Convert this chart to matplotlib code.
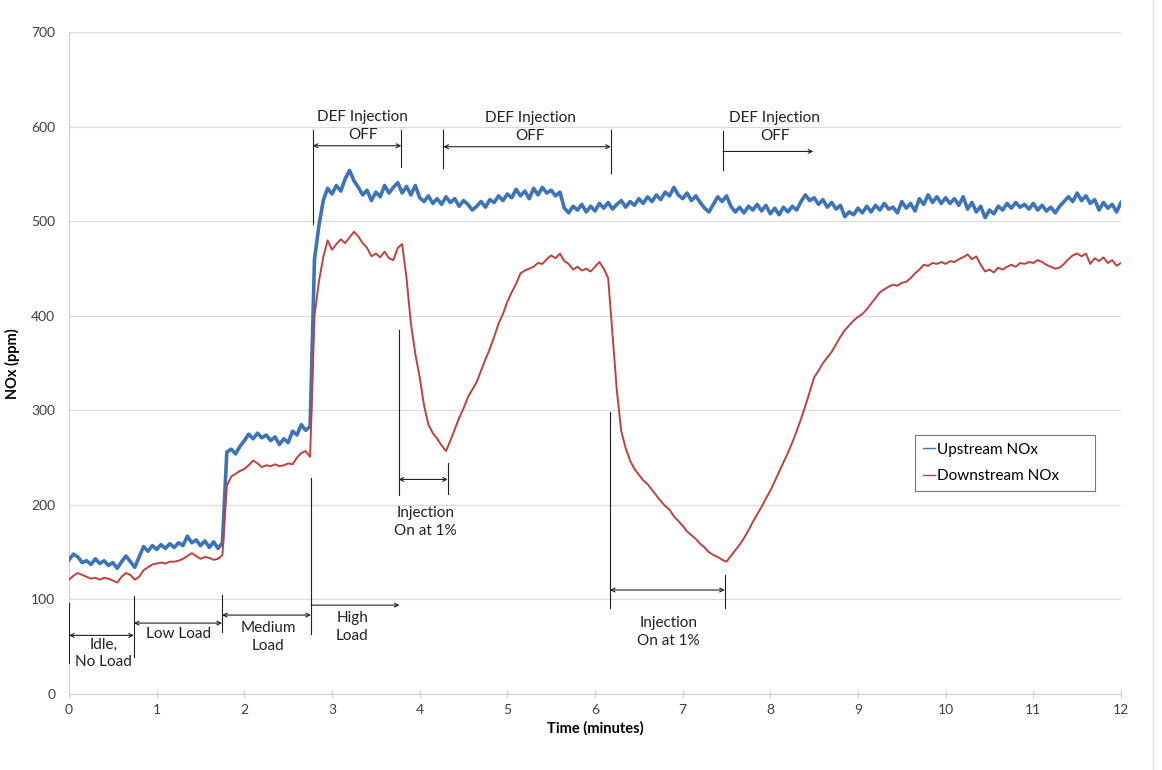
import numpy as np
import matplotlib
matplotlib.use('Agg')
import matplotlib.pyplot as plt
from matplotlib.lines import Line2D

plt.rcParams['font.family'] = ['Lato', 'DejaVu Sans']

# readings every 0.05 minutes, 0 .. 12
step = 0.05

upstream = [
    142, 148, 145, 139, 141, 137, 143, 138, 141, 136, 139, 133, 140, 146, 140, 134,
    145, 156, 151, 157, 153, 158, 154, 159, 155, 160, 157, 167, 160, 163, 157, 162,
    155, 161, 154, 160, 256, 259, 254, 262, 268, 275, 270, 276, 271, 274, 268, 272,
    264, 270, 266, 278, 274, 285, 279, 283, 460, 495, 522, 535, 529, 538, 532, 545,
    554, 543, 536, 528, 533, 522, 531, 526, 538, 530, 536, 541, 530, 537, 528, 538,
    525, 521, 527, 519, 524, 518, 526, 520, 524, 516, 522, 518, 512, 516, 521, 515,
    523, 520, 527, 522, 529, 525, 534, 527, 532, 524, 535, 528, 536, 530, 533, 527,
    531, 514, 509, 516, 512, 518, 510, 516, 511, 519, 514, 520, 513, 518, 522, 515,
    521, 517, 524, 519, 526, 521, 528, 523, 531, 527, 536, 528, 524, 530, 522, 527,
    520, 514, 510, 518, 526, 521, 527, 516, 510, 515, 509, 516, 512, 518, 511, 517,
    508, 514, 507, 515, 510, 516, 512, 521, 528, 522, 525, 518, 523, 515, 520, 513,
    517, 505, 510, 507, 514, 509, 516, 510, 517, 512, 519, 513, 515, 509, 521, 514,
    519, 511, 524, 518, 528, 520, 526, 519, 525, 519, 524, 517, 526, 513, 520, 510,
    516, 504, 512, 508, 516, 512, 519, 514, 520, 515, 518, 513, 519, 512, 517, 511,
    515, 509, 516, 521, 526, 521, 530, 522, 527, 519, 523, 512, 520, 514, 518, 510,
    520,
]

downstream = [
    121, 125, 128, 126, 124, 122, 123, 121, 123, 122, 120, 118, 124, 128, 126, 121,
    124, 131, 134, 137, 138, 139, 138, 140, 140, 141, 143, 146, 149, 146, 143, 145,
    144, 142, 143, 147, 220, 230, 233, 236, 238, 242, 247, 244, 240, 242, 241, 243,
    241, 242, 244, 243, 250, 255, 257, 251, 400, 436, 462, 480, 470, 476, 481, 477,
    483, 489, 484, 477, 472, 463, 466, 462, 468, 461, 459, 472, 476, 440, 392, 360,
    335, 305, 285, 276, 270, 263, 257, 268, 280, 292, 302, 314, 322, 330, 342, 354,
    365, 378, 392, 402, 415, 425, 434, 445, 448, 450, 452, 456, 455, 460, 464, 461,
    466, 458, 455, 449, 452, 448, 450, 447, 452, 457, 450, 440, 380, 320, 278, 260,
    247, 238, 232, 226, 222, 216, 210, 204, 199, 195, 188, 183, 178, 172, 168, 164,
    159, 155, 150, 147, 145, 142, 140, 146, 152, 158, 165, 173, 182, 190, 198, 207,
    215, 225, 235, 245, 255, 266, 278, 291, 305, 320, 335, 342, 350, 356, 362, 370,
    378, 385, 390, 395, 399, 402, 407, 413, 419, 425, 428, 431, 433, 432, 435, 436,
    440, 445, 449, 454, 453, 456, 455, 457, 455, 458, 457, 460, 462, 465, 460, 463,
    454, 447, 449, 446, 451, 449, 452, 454, 452, 456, 455, 457, 456, 459, 457, 454,
    452, 450, 451, 455, 460, 464, 466, 463, 466, 455, 461, 458, 462, 456, 459, 453,
    456,
]

assert len(upstream) == 241 and len(downstream) == 241
minutes = np.arange(len(upstream)) * step

fig = plt.figure(figsize=(11.62, 7.70), dpi=100)
ax = fig.add_axes([0.0594, 0.0987, 0.9053, 0.8593])

ax.plot(minutes, upstream, color='#3d74b9', lw=2.6, label='Upstream NOx', zorder=3)
ax.plot(minutes, downstream, color='#c0413c', lw=1.4, label='Downstream NOx', zorder=3)

ax.set_xlim(0, 12)
ax.set_ylim(0, 700)
ax.set_xticks(range(0, 13))
ax.set_yticks(range(0, 701, 100))
ax.grid(axis='y', color='#dcdcdc', lw=0.9)
ax.set_axisbelow(True)
for s in ['top', 'right']:
    ax.spines[s].set_visible(False)
for s in ['left', 'bottom']:
    ax.spines[s].set_color('#d0d0d0')
ax.tick_params(axis='x', direction='inout', length=6, color='#d0d0d0', labelsize=10, labelcolor='#404040', pad=4)
ax.tick_params(axis='y', length=0, labelsize=10, labelcolor='#404040', pad=10)
ax.set_xlabel('Time (minutes)', fontsize=10.5, fontweight='bold', labelpad=4)
ax.set_ylabel('NOx (ppm)', fontsize=10.5, fontweight='bold', labelpad=8)

# markers for the test phases
def vline(x, y0, y1):
    ax.plot([x, x], [y0, y1], color='#222222', lw=0.8, zorder=4)

def span(x0, x1, y, style='<->'):
    ax.annotate('', xy=(x1, y), xytext=(x0, y),
                arrowprops=dict(arrowstyle=style, color='#222222', lw=0.8,
                                shrinkA=0, shrinkB=0, mutation_scale=7), zorder=4)

def label(x, y, s):
    ax.text(x, y, s, ha='center', va='center', fontsize=11, color='#222222',
            linespacing=1.35, zorder=4)

# load steps
vline(0, 33, 96)
vline(0.74, 39, 104)
vline(1.745, 66, 105)
vline(2.76, 64, 228)
span(0, 0.74, 62)
span(0.74, 1.745, 75)
span(1.745, 2.76, 83.5)
span(2.76, 3.77, 94, '->')
label(0.39, 43, 'Idle,\nNo Load')
label(1.25, 63, 'Low Load')
label(2.27, 60, 'Medium\nLoad')
label(3.23, 71, 'High\nLoad')

# injection on periods
vline(3.76, 211, 385)
vline(4.32, 212, 244)
span(3.76, 4.32, 227)
label(4.07, 182, 'Injection\nOn at 1%')
vline(6.17, 91, 298)
vline(7.48, 91, 126)
span(6.17, 7.48, 110)
label(6.84, 66, 'Injection\nOn at 1%')

# injection off periods
vline(2.78, 497, 597)
vline(3.79, 558, 597)
span(2.78, 3.79, 580)
label(3.35, 601, 'DEF Injection\nOFF')
vline(4.27, 556, 597)
vline(6.18, 551, 597)
span(4.27, 6.18, 579)
label(5.26, 600, 'DEF Injection\nOFF')
vline(7.46, 554, 596)
span(7.46, 8.49, 574, '->')
label(8.05, 600, 'DEF Injection\nOFF')

leg = ax.legend(loc='lower left', bbox_to_anchor=(0.797, 0.296, 0.186, 0.095),
                mode='expand', fontsize=11, frameon=True, fancybox=False,
                handlelength=0.8, handletextpad=0.15, borderpad=0.5, labelspacing=0.8)
leg.get_frame().set_edgecolor('#555555')
leg.get_frame().set_linewidth(0.8)
for h in leg.get_lines():
    h.set_linewidth(1.0)

fig.add_artist(Line2D([1153 / 1162, 1153 / 1162], [0, 1], color='#e0e0e0', lw=1.0))

fig.savefig('out.png', dpi=100)
